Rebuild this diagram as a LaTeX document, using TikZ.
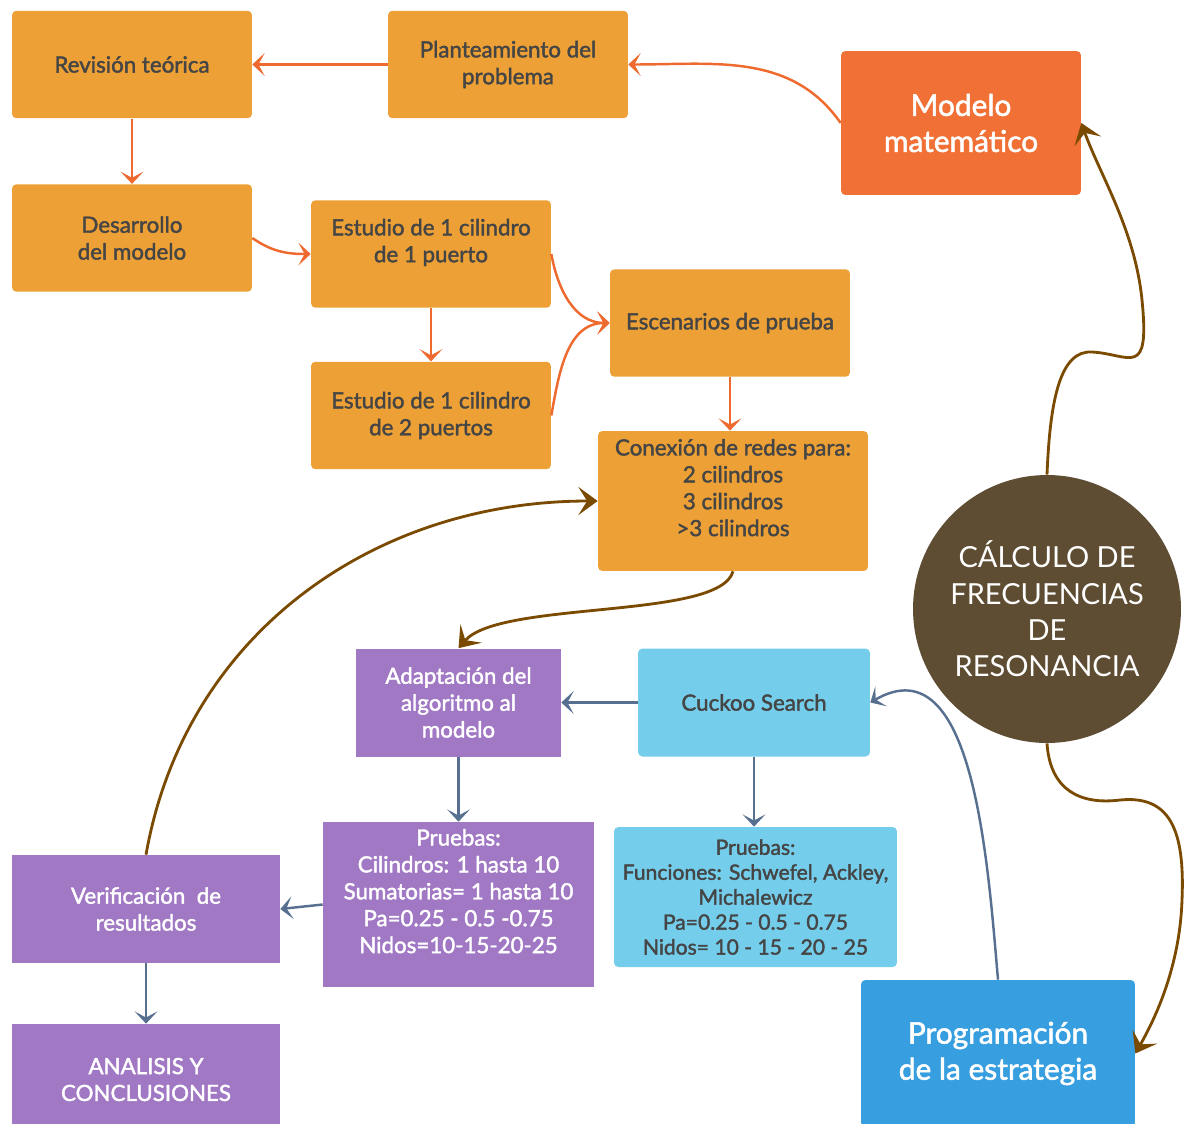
\documentclass[tikz,border=0pt]{standalone}
\usepackage{fontspec}
\setmainfont{Lato}
\newfontfamily\latomedio{Lato}[FakeBold=1.8]
\usetikzlibrary{arrows.meta}

\definecolor{naranja}{HTML}{ECA035}
\definecolor{rojizo}{HTML}{F07035}
\definecolor{cafe}{HTML}{5E4D32}
\definecolor{morado}{HTML}{A178C4}
\definecolor{celeste}{HTML}{74CDEB}
\definecolor{azul}{HTML}{379FE0}
\definecolor{texto}{HTML}{454545}
\definecolor{flechanaranja}{HTML}{EE6A2E}
\definecolor{flechacafe}{HTML}{7A4A00}
\definecolor{flechaazul}{HTML}{587090}

\begin{document}
	\begin{tikzpicture}[x=0.02cm, y=-0.02cm,
			caja/.style={rectangle, rounded corners=2.5pt, fill=naranja, text=texto, align=center, inner sep=0pt,
				minimum width=4.8cm, minimum height=2.15cm, font=\latomedio\fontsize{12.7}{15.3}\selectfont},
			cajamorada/.style={rectangle, fill=morado, text=white, align=center, inner sep=0pt,
				font=\latomedio\fontsize{12.7}{15.3}\selectfont},
			cajaceleste/.style={rectangle, rounded corners=2.5pt, fill=celeste, text=texto, align=center, inner sep=0pt,
				font=\latomedio\fontsize{12.7}{15.3}\selectfont},
			flechan/.style={draw=flechanaranja, line width=1.4pt, -{Stealth[length=7pt, width=13pt, inset=3.5pt]}},
			flechac/.style={draw=flechacafe, line width=1.6pt, -{Stealth[length=11pt, width=16pt, inset=5pt]}},
			flechaa/.style={draw=flechaazul, line width=1.4pt, -{Stealth[length=7pt, width=13pt, inset=3.5pt]}}]
		\useasboundingbox (0,0) rectangle (1186,1123);

		% bloques naranja
		\node [caja] (revision) at ( 132, 64.5 ) {Revisión teórica};
		\node [caja] (planteamiento) at ( 508, 64.5 ) {Planteamiento del\\problema};
		\node [caja] (desarrollo) at ( 132, 238 ) {Desarrollo\\del modelo};
		\node [caja] (estudio1) at ( 431, 254 ) {Estudio de 1 cilindro\\de 1 puerto\\\mbox{}};
		\node [caja] (estudio2) at ( 431, 415.5 ) {Estudio de 1 cilindro\\de 2 puertos};
		\node [caja] (escenarios) at ( 730, 323 ) {Escenarios de prueba};
		\node [caja, minimum width=5.4cm, minimum height=2.8cm] (conexion) at ( 733, 501 )
			{Conexión de redes para:\\2 cilindros\\3 cilindros\\>3 cilindros\\\mbox{}};

		% modelo y circulo central
		\node [rectangle, rounded corners=2.5pt, fill=rojizo, text=white, align=center, inner sep=0pt,
			minimum width=4.8cm, minimum height=2.88cm, font=\latomedio\fontsize{17}{20.5}\selectfont]
			(modelo) at ( 961, 123 ) {Modelo\\matemático};
		\node [circle, fill=cafe, text=white, align=center, inner sep=0pt, minimum size=5.36cm,
			font=\fontsize{16.5}{20.7}\selectfont] (calculo) at ( 1047, 609 )
			{CÁLCULO DE\\FRECUENCIAS\\DE\\RESONANCIA};

		% bloques morados
		\node [cajamorada, minimum width=4.1cm, minimum height=2.16cm] (adaptacion) at ( 458.5, 702.5 )
			{Adaptación del\\algoritmo al\\modelo};
		\node [cajamorada, minimum width=5.42cm, minimum height=3.3cm] (pruebasm) at ( 458.5, 904.5 )
			{Pruebas:\\Cilindros: 1 hasta 10\\Sumatorias= 1 hasta 10\\Pa=0.25 - 0.5 -0.75\\Nidos=10-15-20-25\\\mbox{}};
		\node [cajamorada, minimum width=5.36cm, minimum height=2.16cm] (verificacion) at ( 146, 909 )
			{Verificación~ de\\resultados};
		\node [cajamorada, minimum width=5.36cm, minimum height=2.22cm] (analisis) at ( 146, 1079.5 )
			{ANALISIS Y\\CONCLUSIONES};

		% bloques celestes
		\node [cajaceleste, minimum width=4.64cm, minimum height=2.16cm] (cuckoo) at ( 754, 702.5 ) {Cuckoo Search};
		\node [cajaceleste, minimum width=5.66cm, minimum height=2.8cm, font=\latomedio\fontsize{12}{14.2}\selectfont]
			(pruebasc) at ( 755.5, 897 )
			{Pruebas:\\Funciones: Schwefel, Ackley,\\Michalewicz\\Pa=0.25 - 0.5 - 0.75\\Nidos= 10 - 15 - 20 - 25};
		\node [rectangle, rounded corners=2.5pt, fill=azul, text=white, align=center, inner sep=0pt,
			minimum width=5.48cm, minimum height=2.94cm, font=\latomedio\fontsize{17}{20.5}\selectfont]
			(programacion) at ( 998, 1053.5 ) {Programación\\de la estrategia};

		% flechas naranja
		\draw [flechan] (planteamiento) -- (revision);
		\draw [flechan] (modelo.west) to [out=125, in=0] (planteamiento.east);
		\draw [flechan] (revision) -- (desarrollo);
		\draw [flechan] (desarrollo.east) to [out=-35, in=180] (estudio1.west);
		\draw [flechan] (estudio1) -- (estudio2);
		\draw [flechan] (estudio1.east) to [out=-80, in=180] (escenarios.west);
		\draw [flechan] (estudio2.east) to [out=80, in=180] (escenarios.west);
		\draw [flechan] (escenarios.south) -- (escenarios.south |- conexion.north);

		% flechas cafe
		\draw [flechac] (conexion.south) .. controls ( 720, 620 ) and ( 500, 600 ) .. (adaptacion.north);
		\draw [flechac] (verificacion.north) to [out=80, in=180] (conexion.west);
		\draw [flechac] (calculo.north) .. controls ( 1050, 400 ) and ( 1060, 350 ) .. ( 1092, 352 )
			.. controls ( 1130, 354 ) and ( 1150, 380 ) .. ( 1142, 300 )
			.. controls ( 1135, 230 ) and ( 1100, 175 ) .. (modelo.east);
		\draw [flechac] (calculo.south) .. controls ( 1050, 790 ) and ( 1080, 805 ) .. ( 1120, 800 )
			.. controls ( 1170, 795 ) and ( 1185, 830 ) .. ( 1182, 900 )
			.. controls ( 1180, 960 ) and ( 1160, 1010 ) .. (programacion.east);

		% flechas azules
		\draw [flechaa] (cuckoo) -- (adaptacion);
		\draw [flechaa] (adaptacion) -- (pruebasm);
		\draw [flechaa] (cuckoo.south) -- (cuckoo.south |- pruebasc.north);
		\draw [flechaa] (pruebasm.west) -- (verificacion.east);
		\draw [flechaa] (verificacion) -- (analisis);
		\draw [flechaa] (programacion.north) to [out=95, in=30] (cuckoo.east);
	\end{tikzpicture}
\end{document}
